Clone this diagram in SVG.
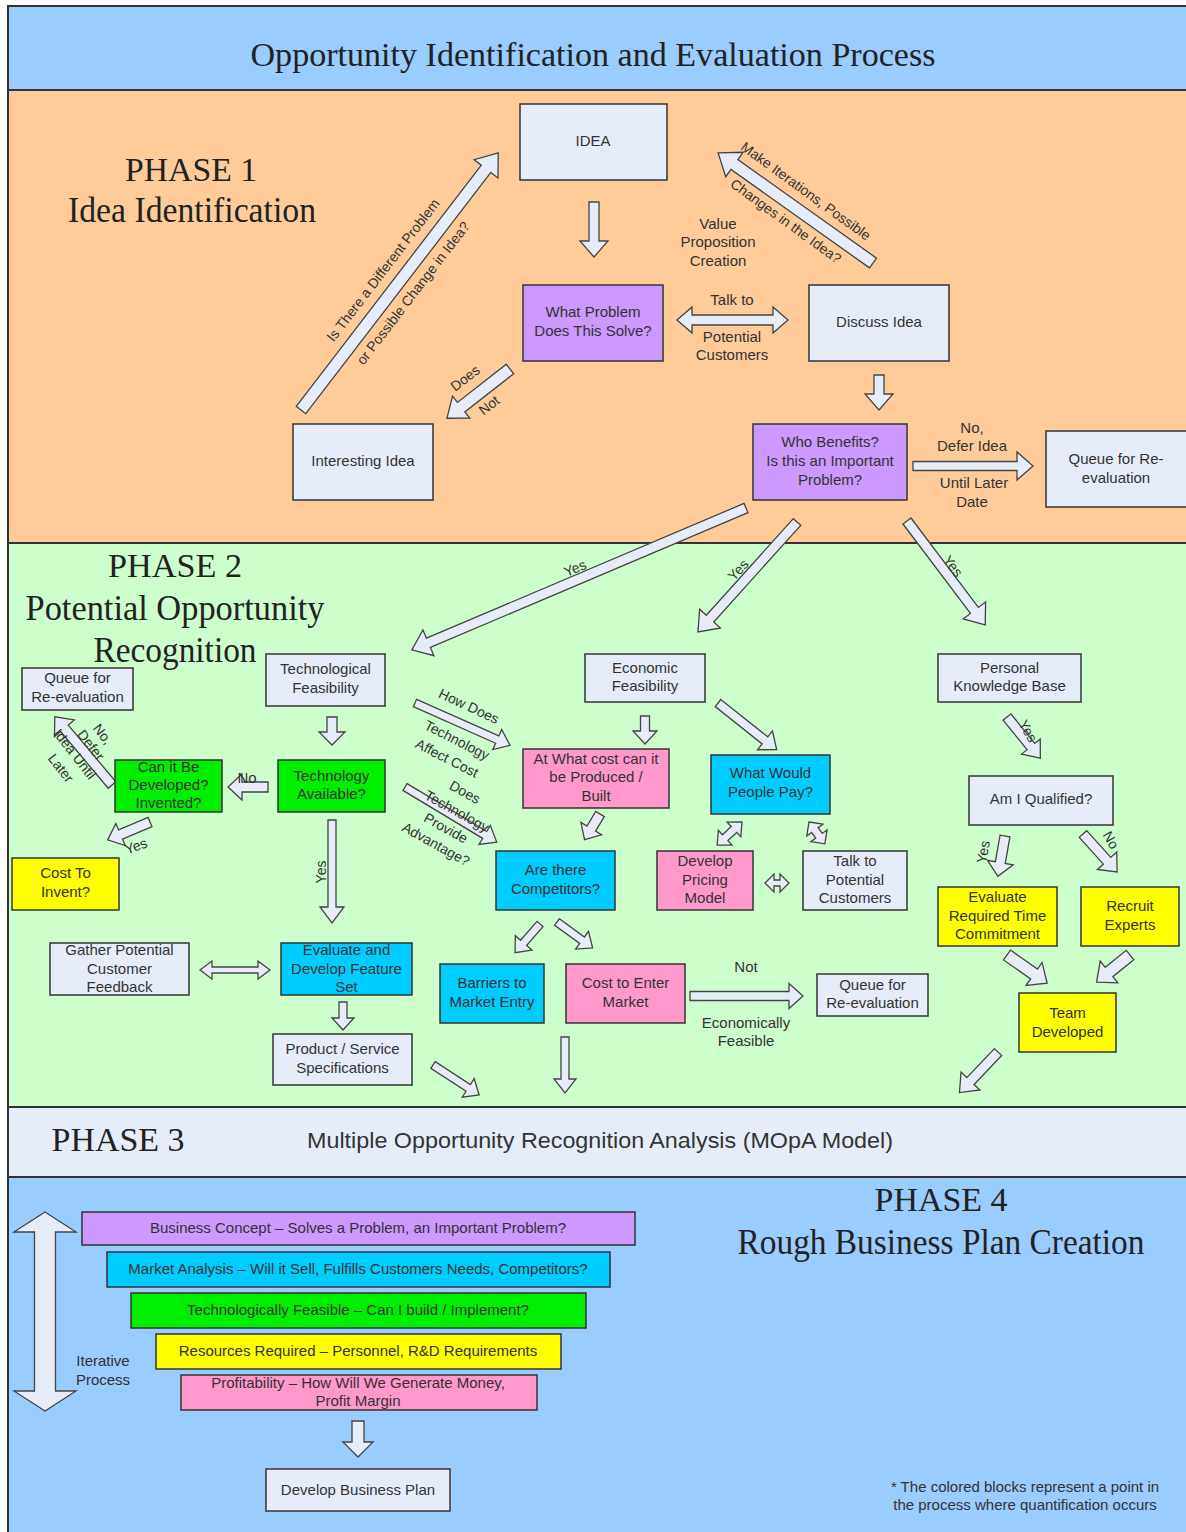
<svg xmlns="http://www.w3.org/2000/svg" width="1186" height="1532" viewBox="0 0 1186 1532">
<style>
.band{stroke:#333;stroke-width:2}
.n{stroke:#333;stroke-width:1.5}
.lt{fill:#E7EDF8}.pu{fill:#CC99FF}.gr{fill:#00EE00}.ye{fill:#FFFF00}.pk{fill:#FF99CC}.cy{fill:#00CCFF}
.ar{fill:#E7EDF8;stroke:#444;stroke-width:1.3}
.t{font-family:"Liberation Sans",Arial,sans-serif;font-size:15px;fill:#333;text-anchor:middle}
.s{font-size:14px}
.h{font-family:"Liberation Serif","Times New Roman",serif;fill:#222;text-anchor:middle}
</style>
<g id="bands">
<rect class="band" x="8" y="6" width="1190" height="84" fill="#99CCFF"/>
<rect class="band" x="8" y="90" width="1190" height="453" fill="#FFCC99"/>
<rect class="band" x="8" y="543" width="1190" height="564" fill="#CCFFCC"/>
<rect class="band" x="8" y="1107" width="1190" height="70" fill="#E7EDF8"/>
<rect class="band" x="8" y="1177" width="1190" height="360" fill="#99CCFF"/>
</g>
<g id="headings">
<text class="h" x="593" y="66" font-size="33" textLength="685" lengthAdjust="spacingAndGlyphs">Opportunity Identification and Evaluation Process</text>
<text class="h" x="191" y="181" font-size="34" textLength="132" lengthAdjust="spacingAndGlyphs">PHASE 1</text>
<text class="h" x="192" y="222" font-size="35" textLength="248" lengthAdjust="spacingAndGlyphs">Idea Identification</text>
<text class="h" x="175" y="577" font-size="34" textLength="134" lengthAdjust="spacingAndGlyphs">PHASE 2</text>
<text class="h" x="175" y="620" font-size="35" textLength="299" lengthAdjust="spacingAndGlyphs">Potential Opportunity</text>
<text class="h" x="175" y="662" font-size="35" textLength="163" lengthAdjust="spacingAndGlyphs">Recognition</text>
<text class="h" x="118" y="1151" font-size="34" textLength="133" lengthAdjust="spacingAndGlyphs">PHASE 3</text>
<text class="t" x="600" y="1148" style="font-size:22px" textLength="586" lengthAdjust="spacingAndGlyphs">Multiple Opportunity Recognition Analysis (MOpA Model)</text>
<text class="h" x="941" y="1211" font-size="34" textLength="133" lengthAdjust="spacingAndGlyphs">PHASE 4</text>
<text class="h" x="941" y="1254" font-size="35" textLength="407" lengthAdjust="spacingAndGlyphs">Rough Business Plan Creation</text>
</g>
<g id="connectors">
<polygon class="ar" transform="translate(594,202) rotate(90)" points="0,-5 39,-5 39,-14 55,0 39,14 39,5 0,5"/>
<polygon class="ar" transform="translate(301,410) rotate(-52.5)" points="0,-6 304,-6 304,-15 324,0 304,15 304,6 0,6"/>
<polygon class="ar" transform="translate(510,369) rotate(142)" points="0,-6 62,-6 62,-14 80,0 62,14 62,6 0,6"/>
<polygon class="ar" transform="translate(873,263) rotate(-144.6)" points="0,-6 170,-6 170,-15 190,0 170,15 170,6 0,6"/>
<polygon class="ar" transform="translate(677,320)" points="0,0 15,-13 15,-5 96,-5 96,-13 111,0 96,13 96,5 15,5 15,13"/>
<polygon class="ar" transform="translate(879,375) rotate(90)" points="0,-5 19,-5 19,-14 35,0 19,14 19,5 0,5"/>
<polygon class="ar" transform="translate(913,466)" points="0,-4.5 104,-4.5 104,-14 120,0 104,14 104,4.5 0,4.5"/>
<polygon class="ar" transform="translate(746,508) rotate(157)" points="0,-5 345,-5 345,-14 363,0 345,14 345,5 0,5"/>
<polygon class="ar" transform="translate(797,522) rotate(132)" points="0,-5 130,-5 130,-14 148,0 130,14 130,5 0,5"/>
<polygon class="ar" transform="translate(907,521) rotate(53)" points="0,-5 112,-5 112,-14 130,0 112,14 112,5 0,5"/>
<polygon class="ar" transform="translate(332,717) rotate(90)" points="0,-5 15,-5 15,-13 28,0 15,13 15,5 0,5"/>
<polygon class="ar" transform="translate(268,787) rotate(180)" points="0,-5 26,-5 26,-13 40,0 26,13 26,5 0,5"/>
<polygon class="ar" transform="translate(112,785) rotate(-130)" points="0,-5 74,-5 74,-13 89,0 74,13 74,5 0,5"/>
<polygon class="ar" transform="translate(150,822) rotate(157)" points="0,-5 32,-5 32,-12 46,0 32,12 32,5 0,5"/>
<polygon class="ar" transform="translate(332,820) rotate(90)" points="0,-4 87,-4 87,-12 103,0 87,12 87,4 0,4"/>
<polygon class="ar" transform="translate(200,970)" points="0,0 12,-9 12,-3 58,-3 58,-9 70,0 58,9 58,3 12,3 12,9"/>
<polygon class="ar" transform="translate(343,1002) rotate(90)" points="0,-4 16,-4 16,-11 28,0 16,11 16,4 0,4"/>
<polygon class="ar" transform="translate(433,1065) rotate(33)" points="0,-4 42,-4 42,-11 55,0 42,11 42,4 0,4"/>
<polygon class="ar" transform="translate(565,1037) rotate(90)" points="0,-4 42,-4 42,-11 56,0 42,11 42,4 0,4"/>
<polygon class="ar" transform="translate(540,924) rotate(131)" points="0,-4 25,-4 25,-11 38,0 25,11 25,4 0,4"/>
<polygon class="ar" transform="translate(557,922) rotate(36)" points="0,-4 31,-4 31,-11 44,0 31,11 31,4 0,4"/>
<polygon class="ar" transform="translate(415,703) rotate(24)" points="0,-4 90,-4 90,-11 104,0 90,11 90,4 0,4"/>
<polygon class="ar" transform="translate(405,787) rotate(31)" points="0,-4 93,-4 93,-11 107,0 93,11 93,4 0,4"/>
<polygon class="ar" transform="translate(645,716) rotate(90)" points="0,-4.5 15,-4.5 15,-12 28,0 15,12 15,4.5 0,4.5"/>
<polygon class="ar" transform="translate(718,703) rotate(38.5)" points="0,-4.5 60,-4.5 60,-12 75,0 60,12 60,4.5 0,4.5"/>
<polygon class="ar" transform="translate(600,814) rotate(121)" points="0,-5 17,-5 17,-12 30,0 17,12 17,5 0,5"/>
<polygon class="ar" transform="translate(742,822) rotate(137)" points="0,0 11,-10 11,-4 23,-4 23,-10 34,0 23,10 23,4 11,4 11,10"/>
<polygon class="ar" transform="translate(809,822) rotate(54)" points="0,0 10,-10 10,-4 17,-4 17,-10 27,0 17,10 17,4 10,4 10,10"/>
<polygon class="ar" transform="translate(765,883)" points="0,0 9,-9 9,-3 15,-3 15,-9 24,0 15,9 15,3 9,3 9,9"/>
<polygon class="ar" transform="translate(690,996)" points="0,-4.5 99,-4.5 99,-12.5 113,0 99,12.5 99,4.5 0,4.5"/>
<polygon class="ar" transform="translate(1007,717) rotate(51)" points="0,-5 38,-5 38,-12 53,0 38,12 38,5 0,5"/>
<polygon class="ar" transform="translate(1005,836) rotate(100)" points="0,-5 27,-5 27,-13 41,0 27,13 27,5 0,5"/>
<polygon class="ar" transform="translate(1083,834) rotate(48)" points="0,-5 36,-5 36,-13 51,0 36,13 36,5 0,5"/>
<polygon class="ar" transform="translate(1007,955) rotate(35)" points="0,-6 33,-6 33,-14 49,0 33,14 33,6 0,6"/>
<polygon class="ar" transform="translate(1130,955) rotate(141)" points="0,-6 27,-6 27,-14 43,0 27,14 27,6 0,6"/>
<polygon class="ar" transform="translate(998,1052) rotate(133.5)" points="0,-5 40,-5 40,-13 56,0 40,13 40,5 0,5"/>
<polygon class="ar" transform="translate(45,1212) rotate(90)" points="0,0 20,-31 20,-10.5 179,-10.5 179,-31 199,0 179,31 179,10.5 20,10.5 20,31"/>
<polygon class="ar" transform="translate(358,1421) rotate(90)" points="0,-6 21,-6 21,-15 36,0 21,15 21,6 0,6"/>
</g>
<g id="connector-labels">
<text class="t s" transform="translate(383,270) rotate(-52.5)" y="5">Is There a Different Problem</text>
<text class="t s" transform="translate(413,293) rotate(-52.5)" y="5">or Possible Change in Idea?</text>
<text class="t s" transform="translate(465,378) rotate(-38)" y="5">Does</text>
<text class="t s" transform="translate(489,405) rotate(-38)" y="5">Not</text>
<text class="t s" transform="translate(806,191) rotate(36)" y="5">Make Iterations, Possible</text>
<text class="t s" transform="translate(786,221) rotate(36)" y="5">Changes in the Idea?</text>
<text class="t" x="718" y="229">Value</text>
<text class="t" x="718" y="247">Proposition</text>
<text class="t" x="718" y="266">Creation</text>
<text class="t" x="732" y="305">Talk to</text>
<text class="t" x="732" y="342">Potential</text>
<text class="t" x="732" y="360">Customers</text>
<text class="t" x="972" y="433">No,</text>
<text class="t" x="972" y="451">Defer Idea</text>
<text class="t" x="974" y="488">Until Later</text>
<text class="t" x="972" y="507">Date</text>
<text class="t s" transform="translate(575,568) rotate(-23)" y="5">Yes</text>
<text class="t s" transform="translate(738,570) rotate(-48)" y="5">Yes</text>
<text class="t s" transform="translate(953,566) rotate(53)" y="5">Yes</text>
<text class="t" x="247" y="783">No</text>
<text class="t s" transform="translate(103,734) rotate(52)" y="5">No,</text>
<text class="t s" transform="translate(91,745) rotate(52)" y="5">Defer</text>
<text class="t s" transform="translate(75,754) rotate(52)" y="5">Idea Until</text>
<text class="t s" transform="translate(61,768) rotate(52)" y="5">Later</text>
<text class="t s" transform="translate(136,846) rotate(-20)" y="5">Yes</text>
<text class="t s" transform="translate(321,872) rotate(-90)" y="5">Yes</text>
<text class="t s" transform="translate(469,706) rotate(25)" y="5">How Does</text>
<text class="t s" transform="translate(457,740) rotate(27)" y="5">Technology</text>
<text class="t s" transform="translate(447,758) rotate(27)" y="5">Affect Cost</text>
<text class="t s" transform="translate(465,792) rotate(29)" y="5">Does</text>
<text class="t s" transform="translate(457,811) rotate(29)" y="5">Technology</text>
<text class="t s" transform="translate(446,828) rotate(29)" y="5">Provide</text>
<text class="t s" transform="translate(436,844) rotate(29)" y="5">Advantage?</text>
<text class="t" x="746" y="972">Not</text>
<text class="t" x="746" y="1028">Economically</text>
<text class="t" x="746" y="1046">Feasible</text>
<text class="t s" transform="translate(1028,731) rotate(60)" y="5">Yes</text>
<text class="t s" transform="translate(983,852) rotate(-80)" y="5">Yes</text>
<text class="t s" transform="translate(1111,840) rotate(60)" y="5">No</text>
<text class="t" x="103" y="1366">Iterative</text>
<text class="t" x="103" y="1385">Process</text>
</g>
<g id="idea"><rect class="n lt" x="520" y="104" width="147" height="76"/><text class="t" x="593" y="146">IDEA</text></g>
<g id="what-problem"><rect class="n pu" x="523" y="285" width="140" height="76"/><text class="t" x="593" y="317">What Problem</text><text class="t" x="593" y="336">Does This Solve?</text></g>
<g id="discuss"><rect class="n lt" x="809" y="285" width="140" height="76"/><text class="t" x="879" y="327">Discuss Idea</text></g>
<g id="interesting"><rect class="n lt" x="293" y="424" width="140" height="76"/><text class="t" x="363" y="466">Interesting Idea</text></g>
<g id="who-benefits"><rect class="n pu" x="753" y="424" width="154" height="76"/><text class="t" x="830" y="447">Who Benefits?</text><text class="t" x="830" y="466">Is this an Important</text><text class="t" x="830" y="485">Problem?</text></g>
<g id="queue1"><rect class="n lt" x="1046" y="431" width="150" height="76"/><text class="t" x="1116" y="464">Queue for Re-</text><text class="t" x="1116" y="483">evaluation</text></g>
<g id="queue-left"><rect class="n lt" x="22" y="668" width="111" height="42"/><text class="t" x="77.5" y="683">Queue for</text><text class="t" x="77.5" y="702">Re-evaluation</text></g>
<g id="tech-feas"><rect class="n lt" x="266" y="654" width="119" height="52"/><text class="t" x="325.5" y="674">Technological</text><text class="t" x="325.5" y="693">Feasibility</text></g>
<g id="tech-avail"><rect class="n gr" x="278" y="760" width="107" height="52"/><text class="t" x="331.5" y="781">Technology</text><text class="t" x="331.5" y="799">Available?</text></g>
<g id="can-develop"><rect class="n gr" x="115" y="760" width="107" height="52"/><text class="t" x="168.5" y="772">Can it Be</text><text class="t" x="168.5" y="790">Developed?</text><text class="t" x="168.5" y="808">Invented?</text></g>
<g id="cost-invent"><rect class="n ye" x="12" y="858" width="107" height="52"/><text class="t" x="65.5" y="878">Cost To</text><text class="t" x="65.5" y="897">Invent?</text></g>
<g id="econ-feas"><rect class="n lt" x="585" y="654" width="120" height="48"/><text class="t" x="645" y="673">Economic</text><text class="t" x="645" y="691">Feasibility</text></g>
<g id="at-what-cost"><rect class="n pk" x="523" y="749" width="146" height="59"/><text class="t" x="596" y="764">At What cost can it</text><text class="t" x="596" y="782">be Produced /</text><text class="t" x="596" y="801">Built</text></g>
<g id="what-pay"><rect class="n cy" x="711" y="755" width="119" height="59"/><text class="t" x="770.5" y="778">What Would</text><text class="t" x="770.5" y="797">People Pay?</text></g>
<g id="competitors"><rect class="n cy" x="496" y="851" width="119" height="59"/><text class="t" x="555.5" y="875">Are there</text><text class="t" x="555.5" y="894">Competitors?</text></g>
<g id="pricing"><rect class="n pk" x="657" y="851" width="96" height="59"/><text class="t" x="705" y="866">Develop</text><text class="t" x="705" y="885">Pricing</text><text class="t" x="705" y="903">Model</text></g>
<g id="talk-customers"><rect class="n lt" x="803" y="851" width="104" height="59"/><text class="t" x="855" y="866">Talk to</text><text class="t" x="855" y="885">Potential</text><text class="t" x="855" y="903">Customers</text></g>
<g id="personal-kb"><rect class="n lt" x="938" y="654" width="143" height="48"/><text class="t" x="1009.5" y="673">Personal</text><text class="t" x="1009.5" y="691">Knowledge Base</text></g>
<g id="qualified"><rect class="n lt" x="969" y="776" width="144" height="49"/><text class="t" x="1041" y="804">Am I Qualified?</text></g>
<g id="eval-time"><rect class="n ye" x="938" y="887" width="119" height="59"/><text class="t" x="997.5" y="902">Evaluate</text><text class="t" x="997.5" y="921">Required Time</text><text class="t" x="997.5" y="939">Commitment</text></g>
<g id="recruit"><rect class="n ye" x="1081" y="887" width="98" height="59"/><text class="t" x="1130" y="911">Recruit</text><text class="t" x="1130" y="930">Experts</text></g>
<g id="team"><rect class="n ye" x="1019" y="993" width="97" height="59"/><text class="t" x="1067.5" y="1018">Team</text><text class="t" x="1067.5" y="1037">Developed</text></g>
<g id="gather"><rect class="n lt" x="50" y="943" width="139" height="52"/><text class="t" x="119.5" y="955">Gather Potential</text><text class="t" x="119.5" y="974">Customer</text><text class="t" x="119.5" y="992">Feedback</text></g>
<g id="feature-set"><rect class="n cy" x="281" y="943" width="131" height="52"/><text class="t" x="346.5" y="955">Evaluate and</text><text class="t" x="346.5" y="974">Develop Feature</text><text class="t" x="346.5" y="992">Set</text></g>
<g id="product-spec"><rect class="n lt" x="273" y="1034" width="139" height="51"/><text class="t" x="342.5" y="1054">Product / Service</text><text class="t" x="342.5" y="1073">Specifications</text></g>
<g id="barriers"><rect class="n cy" x="440" y="964" width="104" height="59"/><text class="t" x="492" y="988">Barriers to</text><text class="t" x="492" y="1007">Market Entry</text></g>
<g id="cost-enter"><rect class="n pk" x="566" y="964" width="119" height="59"/><text class="t" x="625.5" y="988">Cost to Enter</text><text class="t" x="625.5" y="1007">Market</text></g>
<g id="queue-mid"><rect class="n lt" x="817" y="974" width="111" height="42"/><text class="t" x="872.5" y="990">Queue for</text><text class="t" x="872.5" y="1008">Re-evaluation</text></g>
<g id="bar-concept"><rect class="n pu" x="82" y="1212" width="553" height="33"/><text class="t" x="358" y="1233">Business Concept – Solves a Problem, an Important Problem?</text></g>
<g id="bar-market"><rect class="n cy" x="107" y="1252" width="503" height="35"/><text class="t" x="358" y="1274">Market Analysis – Will it Sell, Fulfills Customers Needs, Competitors?</text></g>
<g id="bar-tech"><rect class="n gr" x="131" y="1293" width="455" height="35"/><text class="t" x="358" y="1315">Technologically Feasible – Can I build / Implement?</text></g>
<g id="bar-resources"><rect class="n ye" x="156" y="1334" width="405" height="35"/><text class="t" x="358" y="1356">Resources Required – Personnel, R&amp;D Requirements</text></g>
<g id="bar-profit"><rect class="n pk" x="181" y="1375" width="356" height="35"/><text class="t" x="358" y="1388">Profitability – How Will We Generate Money,</text><text class="t" x="358" y="1406">Profit Margin</text></g>
<g id="develop-plan"><rect class="n lt" x="266" y="1469" width="184" height="42"/><text class="t" x="358" y="1495">Develop Business Plan</text></g>
<g id="footnote"><text class="t" x="1025" y="1492">* The colored blocks represent a point in</text><text class="t" x="1025" y="1510">the process where quantification occurs</text></g>
</svg>
